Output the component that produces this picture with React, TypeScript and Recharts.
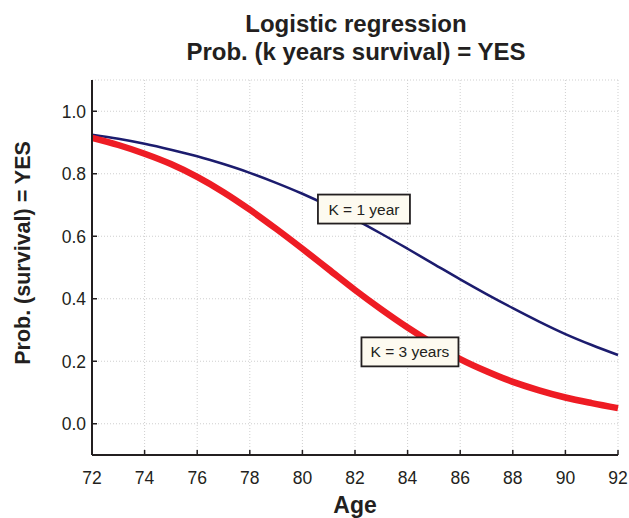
import React from "react";
import { LineChart, Line, XAxis, YAxis, CartesianGrid, ReferenceDot } from "recharts";

const ages = [72, 73, 74, 75, 76, 77, 78, 79, 80, 81, 82, 83, 84, 85, 86, 87, 88, 89, 90, 91, 92];
const k1Year = [0.925, 0.912, 0.896, 0.877, 0.856, 0.831, 0.803, 0.771, 0.736, 0.697, 0.654, 0.608, 0.56, 0.511, 0.462, 0.415, 0.37, 0.327, 0.287, 0.252, 0.22];
const k3Years = [0.915, 0.892, 0.864, 0.831, 0.79, 0.741, 0.685, 0.624, 0.56, 0.494, 0.428, 0.366, 0.308, 0.255, 0.207, 0.168, 0.134, 0.107, 0.084, 0.066, 0.05];
const xTicks = [72, 74, 76, 78, 80, 82, 84, 86, 88, 90, 92];
const yTicks = [0, 0.2, 0.4, 0.6, 0.8, 1.0];

const data = ages.map((age, i) => ({ age, k1: k1Year[i], k3: k3Years[i] }));

const FONT = "'Liberation Sans', Arial, sans-serif";
const AXIS = "#231f20";

const XTick = (props: any) => {
  const { x, y, payload } = props;
  return (
    <text x={x} y={y} dy="0.72em" textAnchor="middle" fontSize={17.5} fontFamily={FONT} fill={AXIS}>
      {payload.value}
    </text>
  );
};

const YTick = (props: any) => {
  const { x, y, payload } = props;
  return (
    <text x={x} y={y} dy="0.36em" textAnchor="end" fontSize={17.5} fontFamily={FONT} fill={AXIS}>
      {Number(payload.value).toFixed(1)}
    </text>
  );
};

const boxLabel = (text: string, w: number) => (props: any) => {
  const { cx, cy } = props;
  return (
    <g>
      <rect x={cx - w / 2} y={cy - 14.5} width={w} height={29} fill="#fdfaf0" stroke={AXIS} strokeWidth={1.8} />
      <text x={cx} y={cy + 5.5} textAnchor="middle" fontSize={15.5} fontFamily={FONT} fill={AXIS}>
        {text}
      </text>
    </g>
  );
};

export default function App() {
  return (
    <div style={{ position: "absolute", left: 0, top: 0, width: 629, height: 518, background: "#fff", fontFamily: FONT }}>
      <div style={{ position: "absolute", left: 0, width: 629, top: 10, textAlign: "center", paddingLeft: 83, boxSizing: "border-box", fontWeight: "bold", fontSize: 24, lineHeight: "28px", color: AXIS }}>
        Logistic regression
        <br />
        Prob. (k years survival) = YES
      </div>
      <div style={{ position: "absolute", left: 23, top: 253, transform: "translate(-50%, -50%) rotate(-90deg)", whiteSpace: "nowrap", fontWeight: "bold", fontSize: 21.5, color: AXIS }}>
        Prob. (survival) = YES
      </div>
      <div style={{ position: "absolute", left: 0, width: 629, top: 492, paddingLeft: 81, boxSizing: "border-box", textAlign: "center", fontWeight: "bold", fontSize: 23, color: AXIS }}>
        Age
      </div>
      <LineChart width={629} height={518} data={data} margin={{ top: 80, right: 11, bottom: 33, left: 42 }}>
        <CartesianGrid stroke="#cfcfcf" strokeDasharray="1 2" />
        <XAxis
          dataKey="age"
          type="number"
          domain={[72, 92]}
          ticks={xTicks}
          height={30}
          tickSize={-5}
          tickMargin={21}
          axisLine={{ stroke: AXIS, strokeWidth: 2 }}
          tickLine={{ stroke: AXIS, strokeWidth: 1.5 }}
          tick={<XTick />}
        />
        <XAxis
          xAxisId="top"
          orientation="top"
          dataKey="age"
          type="number"
          domain={[72, 92]}
          ticks={xTicks}
          height={0}
          tickSize={-5}
          tick={false}
          axisLine={{ stroke: AXIS, strokeWidth: 2 }}
          tickLine={{ stroke: AXIS, strokeWidth: 1.5 }}
        />
        <YAxis
          type="number"
          domain={[-0.1, 1.1]}
          ticks={yTicks}
          width={50}
          tickSize={-5}
          tickMargin={11}
          axisLine={{ stroke: AXIS, strokeWidth: 2 }}
          tickLine={{ stroke: AXIS, strokeWidth: 1.5 }}
          tick={<YTick />}
        />
        <YAxis
          yAxisId="right"
          orientation="right"
          type="number"
          domain={[-0.1, 1.1]}
          ticks={yTicks}
          width={0}
          tickSize={-5}
          tick={false}
          axisLine={{ stroke: AXIS, strokeWidth: 2 }}
          tickLine={{ stroke: AXIS, strokeWidth: 1.5 }}
        />
        <Line type="monotone" dataKey="k1" stroke="#1c1c6e" strokeWidth={2.5} dot={false} isAnimationActive={false} />
        <Line type="monotone" dataKey="k3" stroke="#ee1c24" strokeWidth={6.5} dot={false} isAnimationActive={false} />
        <ReferenceDot x={82.34} y={0.687} r={0} shape={boxLabel("K = 1 year", 92)} />
        <ReferenceDot x={84.09} y={0.23} r={0} shape={boxLabel("K = 3 years", 97)} />
      </LineChart>
    </div>
  );
}
